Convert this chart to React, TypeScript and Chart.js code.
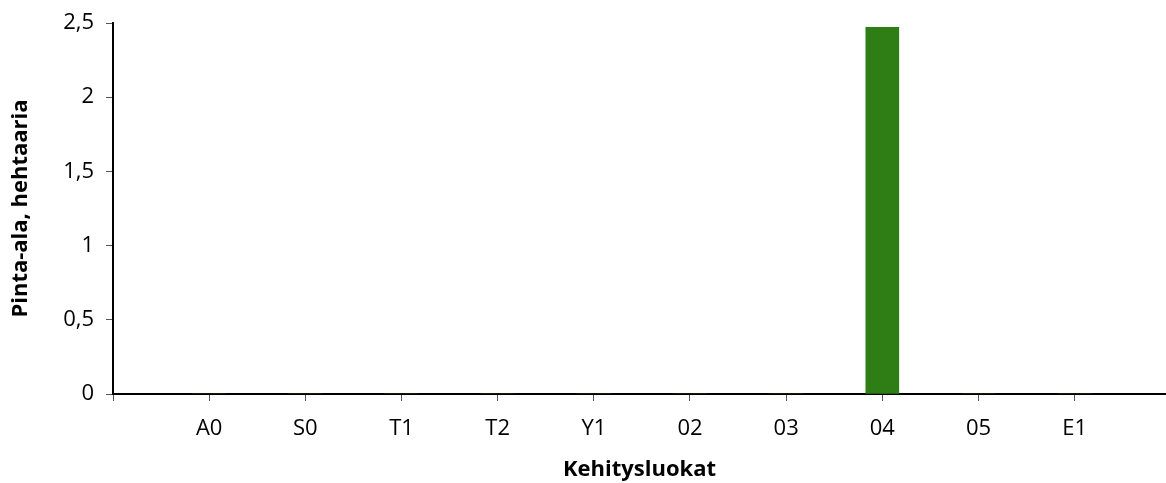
import React, { useEffect, useRef } from "react";
import { Chart, registerables } from "chart.js";

Chart.register(...registerables);

const categories = ["", "A0", "S0", "T1", "T2", "Y1", "02", "03", "04", "05", "E1"];
const areaValues = [0, 0, 0, 0, 0, 0, 0, 2.47, 0, 0];
const yTicks = [0, 0.5, 1, 1.5, 2, 2.5];

export default function App() {
  const ref = useRef<HTMLCanvasElement | null>(null);
  useEffect(() => {
    document.body.style.margin = "0";
    document.body.style.overflow = "hidden";
    if (!ref.current) return;
    const data = areaValues.map((v, i) => ({ x: i + 1, y: v }));
    const chart = new Chart(ref.current, {
      type: "bar",
      data: {
        datasets: [
          {
            label: "Pinta-ala",
            data,
            backgroundColor: "#2E7D15",
            barThickness: 33,
            borderWidth: 0,
          },
        ],
      },
      options: {
        animation: false,
        responsive: true,
        maintainAspectRatio: false,
        layout: { padding: { top: 23, right: 0, left: 0, bottom: 0 } },
        plugins: { legend: { display: false }, tooltip: { enabled: false } },
        scales: {
          x: {
            type: "linear",
            min: 0,
            max: 10.95,
            offset: false,
            afterBuildTicks: (scale: any) => {
              scale.ticks = categories.map((_, i) => ({ value: i }));
            },
            afterFit: (scale: any) => {
              scale.height = 89;
              scale.paddingLeft = 0;
              scale.paddingRight = 0;
            },
            ticks: {
              stepSize: 1,
              autoSkip: false,
              maxRotation: 0,
              color: "#000",
              padding: 15,
              font: { family: "'Open Sans'", size: 22 },
              callback: (v: any) => categories[Number(v)] ?? "",
            },
            grid: {
              display: true,
              offset: false,
              drawOnChartArea: false,
              drawTicks: true,
              tickLength: 7,
              lineWidth: 1,
              color: "#555",
            },
            border: { display: true, color: "#000", width: 2 },
            title: {
              display: true,
              text: "Kehitysluokat",
              color: "#000",
              font: { family: "'Open Sans'", size: 22, weight: "bold" },
              padding: { top: 10, bottom: 0 },
            },
          },
          y: {
            min: 0,
            max: 2.5,
            afterBuildTicks: (scale: any) => {
              scale.ticks = yTicks.map((v) => ({ value: v }));
            },
            afterFit: (scale: any) => {
              scale.width = 113;
              scale.paddingTop = 0;
              scale.paddingBottom = 0;
            },
            ticks: {
              stepSize: 0.5,
              color: "#000",
              padding: 12,
              font: { family: "'Open Sans'", size: 22 },
              callback: (v: any) => String(v).replace(".", ","),
            },
            grid: {
              display: true,
              drawOnChartArea: false,
              drawTicks: true,
              tickLength: 7,
              lineWidth: 1,
              color: "#555",
            },
            border: { display: true, color: "#000", width: 2 },
            title: {
              display: true,
              text: "Pinta-ala, hehtaaria",
              color: "#000",
              font: { family: "'Open Sans'", size: 22, weight: "bold" },
              padding: { top: 8, bottom: 4 },
            },
          },
        },
      },
    });
    return () => chart.destroy();
  }, []);
  return (
    <div style={{ width: 1166, height: 483, position: "relative" }}>
      <canvas ref={ref} />
    </div>
  );
}
